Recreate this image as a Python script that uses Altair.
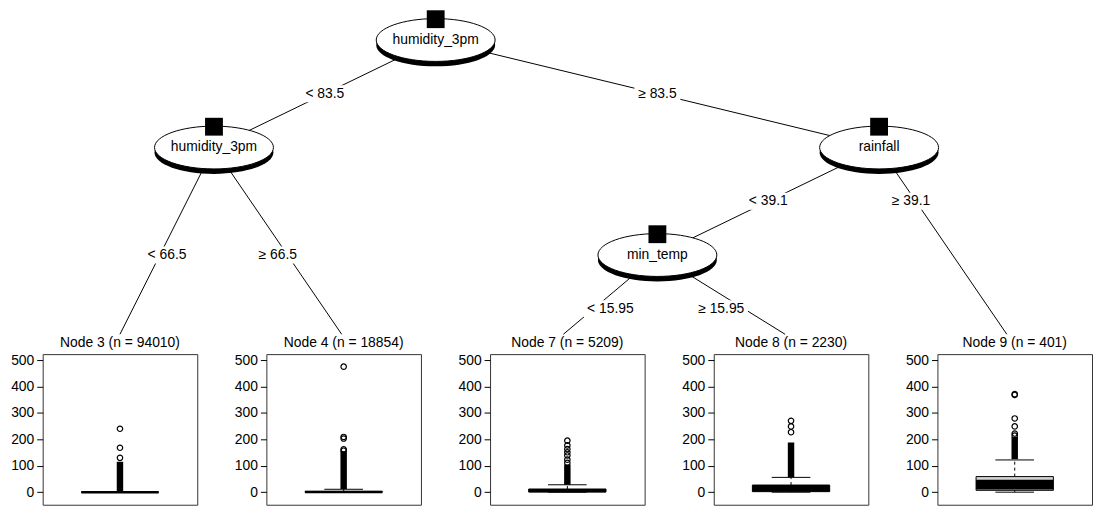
import altair as alt
import pandas as pd

FONT = "Liberation Sans"

# ---------------- tree structure ----------------
node_id = [1, 2, 3, 4, 5, 6, 7, 8, 9]
node_parent = [0, 1, 2, 2, 1, 5, 6, 6, 5]
node_split_var = ["humidity_3pm", "humidity_3pm", "", "", "rainfall", "min_temp", "", "", ""]
edge_child = [2, 5, 3, 4, 6, 9, 7, 8]
edge_text = ["< 83.5", "≥ 83.5", "< 66.5", "≥ 66.5", "< 39.1", "≥ 39.1", "< 15.95", "≥ 15.95"]

# ---------------- terminal nodes ----------------
leaf_id = [3, 4, 7, 8, 9]
leaf_n = [94010, 18854, 5209, 2230, 401]
whisker_lo = [0, 0, 0, 0, 0]
box_lo = [0, 0, 0.5, 2, 7]
median = [0, 1, 4, 10, 28]
box_hi = [0, 3, 12, 27, 59]
whisker_hi = [0, 11, 28, 56, 122]
dark_lo = [0, 0, 0.5, 2, 10]
dark_hi = [0, 3, 12, 27, 47]
dense_lo = [1, 12, 28, 57, 125]
dense_hi = [115, 155, 105, 188, 210]
outliers = [
    [130, 168, 240],
    [157, 162, 203, 209, 475],
    [111, 123, 139, 151, 163, 177, 195],
    [227, 249, 270],
    [214, 222, 249, 279, 368, 371],
]
y_ticks = [0, 100, 200, 300, 400, 500]
y_domain = [-47.5, 522.5]

# ---------------- layout constants ----------------
E = 34          # y-axis extent of each panel
WP = 156        # panel plot width
HP = 152        # panel plot height
P = 223.75      # panel pitch
S = P - E - WP  # spacing between panels
DELTA = 17 / P
TW = E + 4 * P + WP
TH = 322
Y0 = 30
L = 108.5
LEAF_TOP = 2.737
OFF = E + WP / 2 - P * (0.5 + DELTA)
FS = 14

# ---------------- tree layout ----------------
children = {n: [c for c, p in zip(node_id, node_parent) if p == n] for n in node_id}


def nleaves(n):
    return 1 if not children[n] else sum(nleaves(c) for c in children[n])


pos, depth = {}, {}


def layout(n, x0, d):
    depth[n] = d
    if not children[n]:
        pos[n] = x0 + 0.5 + DELTA
        return
    pos[n] = x0 + nleaves(children[n][0])
    x = x0
    for c in children[n]:
        layout(c, x, d + 1)
        x += nleaves(c)


layout(1, 0, 0)


def level(k):
    return depth[k] if children[k] else 3


inner = [n for n in node_id if children[n]]
nodes_df = pd.DataFrame({
    "x": [pos[n] for n in inner],
    "y": [depth[n] for n in inner],
    "var": [node_split_var[node_id.index(n)] for n in inner],
})

rows = []
for c, txt in zip(edge_child, edge_text):
    p = node_parent[node_id.index(c)]
    px, pdp = pos[p], depth[p]
    mlev = min(level(k) for k in children[p])
    ld = pdp + (mlev - pdp) / 2
    lx = px + (pos[c] - px) * (ld - pdp) / (level(c) - pdp)
    end_d = depth[c] if children[c] else LEAF_TOP
    w = 7.4 * len(txt) + 2
    rows.append(dict(x=px, y=pdp, x2=pos[c], y2=end_d, lx=lx, ly=ld, label=txt,
                     bx=lx - w / 2 / P, bx2=lx + w / 2 / P,
                     by=ld - 8.5 / L, by2=ld + 8.5 / L))
edges_df = pd.DataFrame(rows)

# the tree view starts where the first panel's plot area starts (after its axis)
xs = alt.Scale(domain=[(E - OFF) / P, (TW - OFF) / P], nice=False, zero=False, padding=0)
ys = alt.Scale(domain=[-Y0 / L, (TH - Y0) / L], nice=False, zero=False, reverse=True, padding=0)

k = 0.5523
ry = 0.36
ELL = (f"M-1,0C-1,{-ry*k:.4f},{-k},{-ry},0,{-ry}C{k},{-ry},1,{-ry*k:.4f},1,0"
       f"C1,{ry*k:.4f},{k},{ry},0,{ry}C{-k},{ry},-1,{ry*k:.4f},-1,0Z")
ESIZE = 120 ** 2


def X(f):
    return alt.X(f + ":Q", scale=xs, axis=None)


def Y(f):
    return alt.Y(f + ":Q", scale=ys, axis=None)


eb = alt.Chart(edges_df)
edges = eb.mark_rule(color="black", strokeWidth=1).encode(x=X("x"), y=Y("y"), x2="x2:Q", y2="y2:Q")
lab_bg = eb.mark_rect(fill="white").encode(x=X("bx"), x2="bx2:Q", y=Y("by"), y2="by2:Q")
lab_tx = eb.mark_text(font=FONT, fontSize=FS, color="black", baseline="middle", align="center").encode(
    x=X("lx"), y=Y("ly"), text="label:N")

nb = alt.Chart(nodes_df)
shadow = nb.mark_point(shape=ELL, size=ESIZE, filled=True, fill="black", opacity=1, yOffset=5).encode(
    x=X("x"), y=Y("y"))
ell = nb.mark_point(shape=ELL, size=ESIZE, filled=True, fill="white", stroke="black", strokeWidth=1,
                    opacity=1).encode(x=X("x"), y=Y("y"))
ntext = nb.mark_text(font=FONT, fontSize=FS, color="black", baseline="middle", align="center").encode(
    x=X("x"), y=Y("y"), text="var:N")
sq = nb.mark_square(size=18 * 18, filled=True, color="black", opacity=1, yOffset=-21).encode(
    x=X("x"), y=Y("y"))

tree = alt.layer(edges, lab_bg, lab_tx, shadow, ell, ntext, sq).properties(
    width=TW - E, height=TH, view=alt.ViewBackground(strokeOpacity=0))

# ---------------- panels ----------------
ysc = alt.Scale(domain=y_domain, nice=False, zero=False, padding=0)
yax = alt.Axis(values=y_ticks, tickSize=6, tickColor="black", tickWidth=1, labelPadding=3,
               labelFontSize=FS, labelFont=FONT, labelColor="black", domain=False, grid=False,
               minExtent=E, maxExtent=E, labelFlush=False)


def YP(f):
    return alt.Y(f + ":Q", scale=ysc, axis=yax, title=None)


panels = []
for i, lid in enumerate(leaf_id):
    st = pd.DataFrame({
        "wlo": [whisker_lo[i]], "blo": [box_lo[i]], "med": [median[i]], "bhi": [box_hi[i]],
        "whi": [whisker_hi[i]], "dlo": [dark_lo[i]], "dhi": [dark_hi[i]],
        "clo": [dense_lo[i]], "chi": [dense_hi[i]],
    })
    od = pd.DataFrame({"v": outliers[i]})
    b = alt.Chart(st)
    wdash_hi = b.mark_rule(color="black", strokeWidth=1, strokeDash=[3, 3]).encode(
        x=alt.value(WP / 2), y=YP("bhi"), y2="whi:Q")
    wdash_lo = b.mark_rule(color="black", strokeWidth=1, strokeDash=[3, 3]).encode(
        x=alt.value(WP / 2), y=YP("wlo"), y2="blo:Q")
    cap_hi = b.mark_rule(color="black", strokeWidth=1).encode(
        x=alt.value(WP * 0.375), x2=alt.value(WP * 0.625), y=YP("whi"))
    cap_lo = b.mark_rule(color="black", strokeWidth=1).encode(
        x=alt.value(WP * 0.375), x2=alt.value(WP * 0.625), y=YP("wlo"))
    box = b.mark_rect(fill="#d3d3d3", stroke="black", strokeWidth=1).encode(
        x=alt.value(WP * 0.25), x2=alt.value(WP * 0.75), y=YP("blo"), y2="bhi:Q")
    dark = b.mark_rect(fill="black").encode(
        x=alt.value(WP * 0.25), x2=alt.value(WP * 0.75), y=YP("dlo"), y2="dhi:Q")
    med = b.mark_rule(color="black", strokeWidth=2.5).encode(
        x=alt.value(WP * 0.25), x2=alt.value(WP * 0.75), y=YP("med"))
    dense = b.mark_rule(color="black", strokeWidth=6.5).encode(
        x=alt.value(WP / 2), y=YP("clo"), y2="chi:Q")
    pts = alt.Chart(od).mark_point(shape="circle", size=30, filled=False, stroke="black",
                                   strokeWidth=1.2, opacity=1).encode(
        x=alt.value(WP / 2), y=YP("v"))
    title = alt.TitleParams(f"Node {lid} (n = {leaf_n[i]})", font=FONT, fontSize=FS,
                            fontWeight="normal", color="black", offset=3, anchor="middle")
    pnl = alt.layer(wdash_hi, wdash_lo, cap_hi, cap_lo, box, dark, med, dense, pts).properties(
        width=WP, height=HP, title=title,
        view=alt.ViewBackground(stroke="#333333", strokeWidth=1))
    panels.append(pnl)

row = alt.hconcat(*panels, spacing=S)
chart = alt.vconcat(tree, row, spacing=0).properties(
    padding={"left": 0, "top": 0, "right": 0, "bottom": 0}, background="white"
).configure_view(stroke="transparent")

chart.save("out.html", embed_options={"renderer": "svg", "actions": False})
